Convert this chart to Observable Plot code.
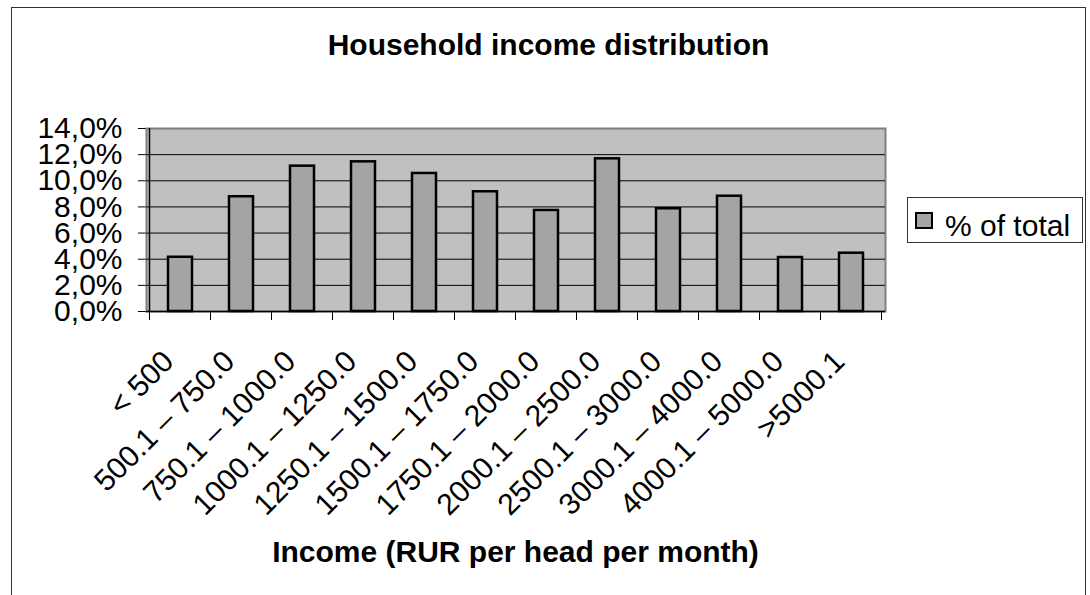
<!DOCTYPE html>
<html><head><meta charset="utf-8">
<script src="https://cdn.jsdelivr.net/npm/d3@7"></script>
<script src="https://cdn.jsdelivr.net/npm/@observablehq/plot@0.6"></script>
<style>
body{margin:0;background:#fff;font-family:"Liberation Sans",Arial,Helvetica,sans-serif;}
#wrap{position:relative;width:1090px;height:595px;overflow:hidden;background:#fff;}
#border{position:absolute;left:11px;top:7px;width:1075px;height:620px;border:1px solid #333;box-sizing:border-box;}
#chart{position:absolute;left:0;top:0;}
#title{position:absolute;left:11px;width:1075px;top:30px;text-align:center;font-weight:bold;font-size:30px;line-height:30px;color:#000;white-space:nowrap;}
#xtitle{position:absolute;left:146px;width:739px;top:537px;text-align:center;font-weight:bold;font-size:30px;line-height:30px;color:#000;white-space:nowrap;}
#legend{position:absolute;left:907px;top:197px;width:176px;height:46px;border:1px solid #333;box-sizing:border-box;background:#fff;}
#legend .sw{position:absolute;left:7px;top:14px;width:18px;height:17px;box-sizing:border-box;border:2px solid #000;background:#a4a4a4;}
#legend .lt{position:absolute;left:37px;top:13px;font-size:30px;line-height:30px;white-space:nowrap;color:#000;}
</style></head><body>
<div id="wrap">
  <div id="border"></div>
  <div id="chart"></div>
  <div id="title">Household income distribution</div>
  <div id="xtitle">Income (RUR per head per month)</div>
  <div id="legend"><span class="sw"></span><span class="lt">% of total</span></div>
</div>
<script>
const categories = ["< 500","500.1 – 750.0","750.1 – 1000.0","1000.1 – 1250.0","1250.1 – 1500.0","1500.1 – 1750.0","1750.1 – 2000.0","2000.1 – 2500.0","2500.1 – 3000.0","3000.1 – 4000.0","4000.1 – 5000.0",">5000.1"];
const shares = [4.15, 8.78, 11.12, 11.45, 10.56, 9.16, 7.73, 11.68, 7.86, 8.82, 4.13, 4.46];
const yTicks = [0, 2, 4, 6, 8, 10, 12, 14];
const gridLevels = [2, 4, 6, 8, 10, 12];

const data = categories.map((c, i) => ({category: c, share: shares[i]}));

function axisLines(index, scales) {
  const x = scales.x, y = scales.y;
  const bw = x.bandwidth();
  const step = x.step ? x.step() : bw / 0.4;
  const gap = step - bw;
  const xs = categories.map(c => x(c) - gap / 2);
  xs.push(x(categories[categories.length - 1]) + bw + gap / 2);
  const y0 = y(0);
  const g = d3.create("svg:g");
  g.selectAll("line.t").data(xs).join("line")
    .attr("x1", d => d).attr("x2", d => d)
    .attr("y1", y0).attr("y2", y0 + 9)
    .attr("stroke", "#000").attr("stroke-width", 1);
  g.append("line")
    .attr("x1", xs[0]).attr("x2", xs[0])
    .attr("y1", y(yTicks[yTicks.length - 1])).attr("y2", y0)
    .attr("stroke", "#000").attr("stroke-width", 1.5);
  return g.node();
}

const chart = Plot.plot({
  width: 1090,
  height: 595,
  marginLeft: 146,
  marginRight: 205,
  marginTop: 128,
  marginBottom: 284,
  style: {fontFamily: "'Liberation Sans', Arial, Helvetica, sans-serif", fontSize: "30px", color: "#000", background: "transparent", overflow: "visible"},
  x: {domain: categories, type: "band", paddingInner: 0.6, paddingOuter: 0.3, axis: null},
  y: {domain: [0, 14], ticks: yTicks, tickSize: 8, tickPadding: 16, label: null,
      tickFormat: d => d.toFixed(1).replace(".", ",") + "%"},
  marks: [
    Plot.frame({fill: "#c0c0c0", stroke: "#808080", strokeWidth: 2}),
    Plot.ruleY(gridLevels, {stroke: "#000", strokeWidth: 1}),
    Plot.ruleY([0], {stroke: "#000", strokeWidth: 1.5}),
    Plot.barY(data, {x: "category", y: "share", fill: "#a4a4a4", stroke: "#000", strokeWidth: 2.5}),
    axisLines,
    Plot.text(data, {x: "category", y: 0, text: "category", rotate: -45, textAnchor: "end", lineAnchor: "middle", dx: -12, dy: 45, fontSize: 30, fill: "#000"})
  ]
});
document.getElementById("chart").appendChild(chart);
</script>
</body></html>
